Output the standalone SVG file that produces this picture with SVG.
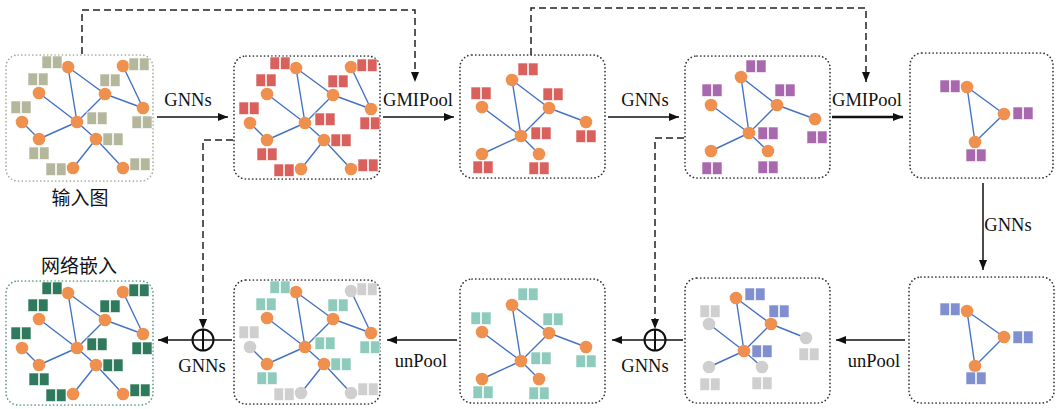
<svg xmlns="http://www.w3.org/2000/svg" xmlns:xlink="http://www.w3.org/1999/xlink" width="1059" height="409" viewBox="0 0 1059 409">
<style>
.bd{fill:none;stroke:#333;stroke-width:1.7;stroke-dasharray:0.1 3.6;stroke-linecap:round}
.bg1{stroke:#a9ad98}
.bg6{stroke:#5f9c86}
.ed{fill:none;stroke:#4472c4;stroke-width:1.4}
.nd{fill:#f0904f}
.ng{fill:#cfcfcf}
.fgg{fill:#b4b79c}
.fr{fill:#d9605c}
.fp{fill:#a868ad}
.fb{fill:#7f8fcf}
.ft{fill:#8ecbbd}
.fdg{fill:#2f7a5c}
.fgy{fill:#cfcfcf}
.pr rect{stroke:#ffffff;stroke-width:0.6}
.ar{fill:none;stroke:#111;stroke-width:1.5}
.op{fill:none;stroke:#111;stroke-width:2}
.dsh{fill:none;stroke:#222;stroke-width:1.5;stroke-dasharray:7 4}
.lb{font-family:"Liberation Serif","Times New Roman",serif;font-size:18.5px;fill:#111;text-anchor:middle}
.zh{font-family:"Noto Sans CJK SC",sans-serif;font-size:19px;fill:#111;text-anchor:middle}
</style>
<defs>
<marker id="ah" markerUnits="userSpaceOnUse" markerWidth="10" markerHeight="8" refX="10" refY="4" orient="auto">
<path d="M0,0 L10,4 L0,8 z" fill="#111"/>
</marker>
<g id="pr" class="pr"><rect x="0" y="0" width="9.5" height="12.5"/><rect x="10.5" y="0" width="9.5" height="12.5"/></g>
</defs>

<g id="p1">
<rect class="bd bg1" x="6" y="55" width="147" height="126" rx="12"/>
<path class="ed" d="M68 67L77 122M68 67L105 94M123 66L143 108M39 93L77 122M105 94L77 122M105 94L143 108M22 122L39 139M39 139L77 122M77 122L96 139M96 139L73 168M96 139L123 168"/>
<g class="nd"><circle cx="68" cy="67" r="6.3"/><circle cx="123" cy="66" r="6.3"/><circle cx="39" cy="93" r="6.3"/><circle cx="105" cy="94" r="6.3"/><circle cx="143" cy="108" r="6.3"/><circle cx="77" cy="122" r="6.3"/><circle cx="22" cy="122" r="6.3"/><circle cx="39" cy="139" r="6.3"/><circle cx="96" cy="139" r="6.3"/><circle cx="73" cy="168" r="6.3"/><circle cx="123" cy="168" r="6.3"/></g>
<g class="fgg"><use xlink:href="#pr" x="42" y="56"/><use xlink:href="#pr" x="129" y="58"/><use xlink:href="#pr" x="28" y="73"/><use xlink:href="#pr" x="100" y="74"/><use xlink:href="#pr" x="132" y="116"/><use xlink:href="#pr" x="87" y="112"/><use xlink:href="#pr" x="11" y="101"/><use xlink:href="#pr" x="29" y="147"/><use xlink:href="#pr" x="103" y="133"/><use xlink:href="#pr" x="46" y="163"/><use xlink:href="#pr" x="130" y="158"/></g>
</g>

<g id="p2" transform="translate(228,1)">
<rect class="bd" x="6" y="55" width="146" height="123" rx="12"/>
<path class="ed" d="M68 67L77 122M68 67L105 94M123 66L143 108M39 93L77 122M105 94L77 122M105 94L143 108M22 122L39 139M39 139L77 122M77 122L96 139M96 139L73 168M96 139L123 168"/>
<g class="nd"><circle cx="68" cy="67" r="6.3"/><circle cx="123" cy="66" r="6.3"/><circle cx="39" cy="93" r="6.3"/><circle cx="105" cy="94" r="6.3"/><circle cx="143" cy="108" r="6.3"/><circle cx="77" cy="122" r="6.3"/><circle cx="22" cy="122" r="6.3"/><circle cx="39" cy="139" r="6.3"/><circle cx="96" cy="139" r="6.3"/><circle cx="73" cy="168" r="6.3"/><circle cx="123" cy="168" r="6.3"/></g>
<g class="fr"><use xlink:href="#pr" x="42" y="56"/><use xlink:href="#pr" x="129" y="58"/><use xlink:href="#pr" x="28" y="73"/><use xlink:href="#pr" x="100" y="74"/><use xlink:href="#pr" x="132" y="116"/><use xlink:href="#pr" x="87" y="112"/><use xlink:href="#pr" x="11" y="101"/><use xlink:href="#pr" x="29" y="147"/><use xlink:href="#pr" x="103" y="133"/><use xlink:href="#pr" x="46" y="163"/><use xlink:href="#pr" x="130" y="158"/></g>
</g>

<g id="p3">
<rect class="bd" x="460" y="55" width="145" height="123" rx="12"/>
<path class="ed" d="M512 80L549 108M512 80L521 136M482 107L521 136M549 108L521 136M549 108L586 122M521 136L482 154M521 136L539 154"/>
<g class="nd"><circle cx="512" cy="80" r="6.3"/><circle cx="482" cy="107" r="6.3"/><circle cx="549" cy="108" r="6.3"/><circle cx="586" cy="122" r="6.3"/><circle cx="521" cy="136" r="6.3"/><circle cx="482" cy="154" r="6.3"/><circle cx="539" cy="154" r="6.3"/></g>
<g class="fr"><use xlink:href="#pr" x="518" y="63"/><use xlink:href="#pr" x="471" y="87"/><use xlink:href="#pr" x="543" y="88"/><use xlink:href="#pr" x="576" y="130"/><use xlink:href="#pr" x="531" y="127"/><use xlink:href="#pr" x="473" y="161"/><use xlink:href="#pr" x="529" y="162"/></g>
</g>

<g id="p4">
<rect class="bd" x="685" y="56" width="145" height="122" rx="12"/>
<path class="ed" d="M741 77L777 105M741 77L749 133M711 105L749 133M777 105L749 133M777 105L815 119M749 133L711 151M749 133L768 151"/>
<g class="nd"><circle cx="741" cy="77" r="6.3"/><circle cx="711" cy="105" r="6.3"/><circle cx="777" cy="105" r="6.3"/><circle cx="815" cy="119" r="6.3"/><circle cx="749" cy="133" r="6.3"/><circle cx="711" cy="151" r="6.3"/><circle cx="768" cy="151" r="6.3"/></g>
<g class="fp"><use xlink:href="#pr" x="746" y="60"/><use xlink:href="#pr" x="702" y="84"/><use xlink:href="#pr" x="775" y="84"/><use xlink:href="#pr" x="807" y="131"/><use xlink:href="#pr" x="758" y="127"/><use xlink:href="#pr" x="702" y="162"/><use xlink:href="#pr" x="758" y="161"/></g>
</g>

<g id="p5">
<rect class="bd" x="910" y="53" width="143" height="125" rx="12"/>
<path class="ed" d="M967 87L1004 114M967 87L975 142M1004 114L975 142"/>
<g class="nd"><circle cx="967" cy="87" r="6.3"/><circle cx="1004" cy="114" r="6.3"/><circle cx="975" cy="142" r="6.3"/></g>
<g class="fp"><use xlink:href="#pr" x="940" y="80"/><use xlink:href="#pr" x="1013" y="107"/><use xlink:href="#pr" x="966" y="149"/></g>
</g>

<g id="p6" transform="translate(0,226)">
<rect class="bd bg6" x="6" y="55" width="147" height="124" rx="12"/>
<path class="ed" d="M68 67L77 122M68 67L105 94M123 66L143 108M39 93L77 122M105 94L77 122M105 94L143 108M22 122L39 139M39 139L77 122M77 122L96 139M96 139L73 168M96 139L123 168"/>
<g class="nd"><circle cx="68" cy="67" r="6.3"/><circle cx="123" cy="66" r="6.3"/><circle cx="39" cy="93" r="6.3"/><circle cx="105" cy="94" r="6.3"/><circle cx="143" cy="108" r="6.3"/><circle cx="77" cy="122" r="6.3"/><circle cx="22" cy="122" r="6.3"/><circle cx="39" cy="139" r="6.3"/><circle cx="96" cy="139" r="6.3"/><circle cx="73" cy="168" r="6.3"/><circle cx="123" cy="168" r="6.3"/></g>
<g class="fdg"><use xlink:href="#pr" x="42" y="56"/><use xlink:href="#pr" x="129" y="58"/><use xlink:href="#pr" x="28" y="73"/><use xlink:href="#pr" x="100" y="74"/><use xlink:href="#pr" x="132" y="116"/><use xlink:href="#pr" x="87" y="112"/><use xlink:href="#pr" x="11" y="101"/><use xlink:href="#pr" x="29" y="147"/><use xlink:href="#pr" x="103" y="133"/><use xlink:href="#pr" x="46" y="163"/><use xlink:href="#pr" x="130" y="158"/></g>
</g>

<g id="p7" transform="translate(228,225)">
<rect class="bd" x="6" y="55" width="146" height="124" rx="12"/>
<path class="ed" d="M68 67L77 122M68 67L105 94M123 66L143 108M39 93L77 122M105 94L77 122M105 94L143 108M22 122L39 139M39 139L77 122M77 122L96 139M96 139L73 168M96 139L123 168"/>
<g class="nd"><circle cx="68" cy="67" r="6.3"/><circle cx="39" cy="93" r="6.3"/><circle cx="105" cy="94" r="6.3"/><circle cx="143" cy="108" r="6.3"/><circle cx="77" cy="122" r="6.3"/><circle cx="39" cy="139" r="6.3"/><circle cx="96" cy="139" r="6.3"/></g>
<g class="ng"><circle cx="123" cy="66" r="6.3"/><circle cx="22" cy="122" r="6.3"/><circle cx="73" cy="168" r="6.3"/><circle cx="123" cy="168" r="6.3"/></g>
<g class="ft"><use xlink:href="#pr" x="42" y="56"/><use xlink:href="#pr" x="28" y="73"/><use xlink:href="#pr" x="100" y="74"/><use xlink:href="#pr" x="132" y="116"/><use xlink:href="#pr" x="87" y="112"/><use xlink:href="#pr" x="29" y="147"/><use xlink:href="#pr" x="103" y="133"/></g>
<g class="fgy"><use xlink:href="#pr" x="129" y="58"/><use xlink:href="#pr" x="11" y="101"/><use xlink:href="#pr" x="46" y="163"/><use xlink:href="#pr" x="130" y="158"/></g>
</g>

<g id="p8" transform="translate(0,225)">
<rect class="bd" x="460" y="54" width="145" height="124" rx="12"/>
<path class="ed" d="M512 80L549 108M512 80L521 136M482 107L521 136M549 108L521 136M549 108L586 122M521 136L482 154M521 136L539 154"/>
<g class="nd"><circle cx="512" cy="80" r="6.3"/><circle cx="482" cy="107" r="6.3"/><circle cx="549" cy="108" r="6.3"/><circle cx="586" cy="122" r="6.3"/><circle cx="521" cy="136" r="6.3"/><circle cx="482" cy="154" r="6.3"/><circle cx="539" cy="154" r="6.3"/></g>
<g class="ft"><use xlink:href="#pr" x="518" y="63"/><use xlink:href="#pr" x="471" y="87"/><use xlink:href="#pr" x="543" y="88"/><use xlink:href="#pr" x="576" y="130"/><use xlink:href="#pr" x="531" y="127"/><use xlink:href="#pr" x="473" y="161"/><use xlink:href="#pr" x="529" y="162"/></g>
</g>

<g id="p9">
<rect class="bd" x="685" y="278" width="145" height="125" rx="12"/>
<path class="ed" d="M736 298L771 324M736 298L744 351M709 324L744 351M771 324L744 351M771 324L806 338M744 351L709 367M744 351L762 367"/>
<g class="nd"><circle cx="736" cy="298" r="6.3"/><circle cx="771" cy="324" r="6.3"/><circle cx="744" cy="351" r="6.3"/></g>
<g class="ng"><circle cx="709" cy="324" r="6.3"/><circle cx="806" cy="338" r="6.3"/><circle cx="709" cy="367" r="6.3"/><circle cx="762" cy="367" r="6.3"/></g>
<g class="fb"><use xlink:href="#pr" x="745" y="288"/><use xlink:href="#pr" x="769" y="305"/><use xlink:href="#pr" x="752" y="345"/></g>
<g class="fgy"><use xlink:href="#pr" x="700" y="305"/><use xlink:href="#pr" x="799" y="348"/><use xlink:href="#pr" x="700" y="378"/><use xlink:href="#pr" x="752" y="377"/></g>
</g>

<g id="p10">
<rect class="bd" x="909" y="277" width="145" height="126" rx="12"/>
<path class="ed" d="M967 311L1004 337M967 311L975 366M1004 337L975 366"/>
<g class="nd"><circle cx="967" cy="311" r="6.3"/><circle cx="1004" cy="337" r="6.3"/><circle cx="975" cy="366" r="6.3"/></g>
<g class="fb"><use xlink:href="#pr" x="940" y="303"/><use xlink:href="#pr" x="1013" y="331"/><use xlink:href="#pr" x="966" y="372"/></g>
</g>

<g id="connectors">
<path class="ar" d="M157 117H228" marker-end="url(#ah)"/>
<path class="ar" d="M383 117H454" marker-end="url(#ah)"/>
<path class="ar" d="M608 117H679" marker-end="url(#ah)"/>
<path class="ar" style="stroke-width:2.4" d="M832 117H903" marker-end="url(#ah)"/>
<path class="ar" d="M983 183V270" marker-end="url(#ah)"/>
<path class="ar" d="M905 340H836" marker-end="url(#ah)"/>
<path class="ar" d="M683 340H612" marker-end="url(#ah)"/>
<path class="ar" d="M457 340H387" marker-end="url(#ah)"/>
<path class="ar" d="M232 340H158" marker-end="url(#ah)"/>
<path class="dsh" d="M82 54V10H415V82" marker-end="url(#ah)"/>
<path class="dsh" d="M531 55V8H866V82" marker-end="url(#ah)"/>
<path class="dsh" d="M233 140H203V329" marker-end="url(#ah)"/>
<path class="dsh" d="M684 138H655V329" marker-end="url(#ah)"/>
<g class="op"><circle cx="203" cy="340" r="10.5"/><path d="M203 329.5V350.5"/></g>
<g class="op"><circle cx="655" cy="340" r="10.5"/><path d="M655 329.5V350.5"/></g>
</g>

<g id="labels">
<text class="lb" x="188" y="106">GNNs</text>
<text class="lb" x="418" y="106">GMIPool</text>
<text class="lb" x="645" y="106">GNNs</text>
<text class="lb" x="867" y="106">GMIPool</text>
<text class="lb" x="1008" y="231">GNNs</text>
<text class="lb" x="874" y="367">unPool</text>
<text class="lb" x="645" y="372">GNNs</text>
<text class="lb" x="421" y="367">unPool</text>
<text class="lb" x="202" y="372">GNNs</text>
<text class="zh" x="80" y="205">输入图</text>
<text class="zh" x="79" y="273">网络嵌入</text>
</g>
</svg>
